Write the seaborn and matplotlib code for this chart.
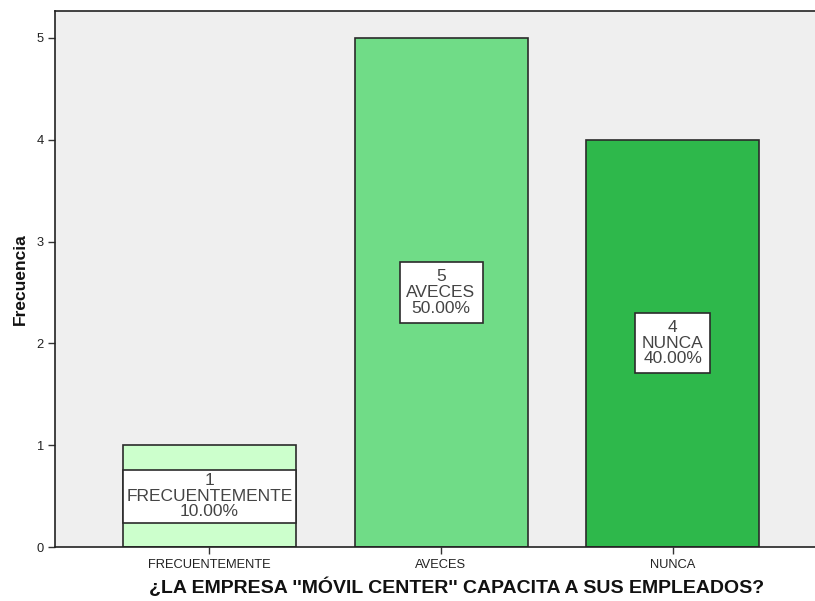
import matplotlib
matplotlib.use("Agg")
import matplotlib.pyplot as plt
import seaborn as sns
import pandas as pd

categories = ["FRECUENTEMENTE", "AVECES", "NUNCA"]
counts = [1, 5, 4]
percents = [10.00, 50.00, 40.00]
colors = ["#ccffcc", "#70dc87", "#2eb84b"]
xlabel = "¿LA EMPRESA ''MÓVIL CENTER'' CAPACITA A SUS EMPLEADOS?"
ylabel = "Frecuencia"

sns.set_theme(style="white")
plt.rcParams["font.family"] = ["Liberation Sans", "DejaVu Sans"]

df = pd.DataFrame({"cat": categories, "n": counts})

fig = plt.figure(figsize=(8.15, 6.01), dpi=100)
ax = fig.add_axes([55 / 815, 54 / 601, 760 / 815, 536 / 601])
ax.set_facecolor("#efefef")

sns.barplot(data=df, x="cat", y="n", hue="cat", palette=colors, order=categories,
            hue_order=categories, width=0.747, edgecolor="#2b2b2b", linewidth=1.2,
            saturation=1, dodge=False, legend=False, ax=ax)

for i, (c, n, p) in enumerate(zip(categories, counts, percents)):
    pad = 0.2 if len(c) > 10 else 0.4
    ax.text(i, n / 2, f"{n}\n{c}\n{p:.2f}%", ha="center", va="center",
            fontsize=12.5, color="#444444", linespacing=1.05,
            bbox=dict(boxstyle=f"square,pad={pad}", facecolor="white",
                      edgecolor="#2b2b2b", linewidth=1.2))

ax.set_xlim(-0.667, 2.615)
ax.set_ylim(0, 5.265)
ax.set_yticks([0, 1, 2, 3, 4, 5])
ax.set_xlabel(xlabel, fontsize=14, fontweight="bold", color="#111111")
ax.xaxis.set_label_coords(0.528, -0.056)
ax.set_ylabel(ylabel, fontsize=12.5, fontweight="bold", color="#111111", labelpad=6)
ax.tick_params(axis="both", which="both", direction="out", length=5, width=1,
               color="#333333", labelcolor="#222222", labelsize=9.3, bottom=True, left=True)
ax.tick_params(axis="y", pad=3)
ax.tick_params(axis="x", pad=4)
for s in ["left", "bottom", "top"]:
    ax.spines[s].set_visible(True)
    ax.spines[s].set_color("#222222")
    ax.spines[s].set_linewidth(1.2)
ax.spines["right"].set_visible(False)

fig.savefig("out.png", dpi=100, facecolor="white")
